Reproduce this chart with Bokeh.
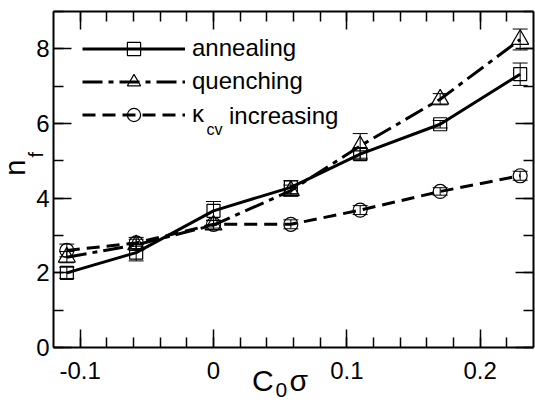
import math
from bokeh.plotting import figure
from bokeh.models import (ColumnDataSource, Whisker, TeeHead, LinearAxis, SingleIntervalTicker,
                          CustomJSTickFormatter, Legend, LegendItem, Label, Range1d, GridBox)
from bokeh.embed import file_html
from bokeh.resources import INLINE

# ---- data ----
c0sigma = [-0.11, -0.058, 0.0, 0.058, 0.11, 0.17, 0.23]
annealing = [2.0, 2.54, 3.66, 4.29, 5.18, 5.98, 7.32]
annealing_err = [0.15, 0.22, 0.25, 0.18, 0.15, 0.10, 0.30]
quenching = [2.42, 2.75, 3.28, 4.2, 5.4, 6.65, 8.25]
quenching_err = [0.15, 0.15, 0.12, 0.15, 0.33, 0.15, 0.28]
kappa = [2.6, 2.8, 3.3, 3.3, 3.68, 4.18, 4.6]
kappa_err = [0.17, 0.15, 0.10, 0.12, 0.12, 0.10, 0.12]

FONT = "Liberation Sans"
W, H = 535, 402

p = figure(width=W, height=H, output_backend="svg", toolbar_location=None,
           x_range=Range1d(-0.12, 0.24), y_range=Range1d(0, 9),
           min_border_left=53, min_border_right=2, min_border_top=11, min_border_bottom=55,
           x_axis_location=None, y_axis_location=None)
p.xgrid.visible = False
p.ygrid.visible = False
p.outline_line_color = None
p.background_fill_color = "white"
p.border_fill_color = "white"

fmt = CustomJSTickFormatter(code="return Number(tick.toFixed(3)).toString();")


def make_axis(dim, loc, labels):
    if dim == "x":
        ticker = SingleIntervalTicker(interval=0.1, num_minor_ticks=5)
    else:
        ticker = SingleIntervalTicker(interval=2, num_minor_ticks=2)
    ax = LinearAxis(ticker=ticker, formatter=fmt)
    ax.axis_line_width = 2
    ax.axis_line_color = "black"
    ax.major_tick_in = 18
    ax.major_tick_out = 0
    ax.minor_tick_in = 10
    ax.minor_tick_out = 0
    ax.major_tick_line_width = 1.5
    ax.minor_tick_line_width = 1.5
    ax.major_tick_line_color = "black"
    ax.minor_tick_line_color = "black"
    if labels:
        ax.major_label_text_font = FONT
        ax.major_label_text_font_size = "24px"
        ax.major_label_text_color = "black"
        ax.major_label_standoff = 14 if dim == "x" else 4
    else:
        ax.major_label_text_color = None
        ax.major_label_text_font_size = "1px"
        ax.major_label_standoff = 0
    p.add_layout(ax, loc)
    return ax


make_axis("x", "below", True)
make_axis("x", "above", False)
make_axis("y", "left", True)
make_axis("y", "right", False)


def series(y, err, marker, size, dash):
    src = ColumnDataSource(dict(x=c0sigma, y=y,
                                upper=[a + b for a, b in zip(y, err)],
                                lower=[a - b for a, b in zip(y, err)]))
    ln = p.line("x", "y", source=src, line_color="black", line_width=3, line_dash=dash)
    wh = Whisker(base="x", upper="upper", lower="lower", source=src, dimension="height",
                 line_color="black", line_width=1,
                 upper_head=TeeHead(size=15, line_color="black", line_width=1),
                 lower_head=TeeHead(size=15, line_color="black", line_width=1))
    p.add_layout(wh)
    sc = p.scatter("x", "y", source=src, marker=marker, size=size, fill_color=None,
                   line_color="black", line_width=1.2)
    return ln, sc


la, sa = series(annealing, annealing_err, "square", 13, "solid")
lq, sq = series(quenching, quenching_err, "triangle", 17, "20 6 5 6")
lk, sk = series(kappa, kappa_err, "circle", 14, "13 7")

legend = Legend(items=[LegendItem(label="annealing", renderers=[la, sa]),
                       LegendItem(label="quenching", renderers=[lq, sq]),
                       LegendItem(label="κ", renderers=[lk, sk])],
                location=(29, 216.5), glyph_width=103, glyph_height=33, label_height=33,
                spacing=0, padding=0, margin=0, label_standoff=7,
                border_line_color=None, background_fill_alpha=0,
                label_text_font=FONT, label_text_font_size="24px", label_text_color="black")
p.add_layout(legend)


def lab(fig, text, x, y, size, angle=0.0):
    fig.add_layout(Label(x=x, y=y, x_units="screen", y_units="screen", text=text,
                         text_font=FONT, text_font_size=f"{size}px", text_color="black",
                         angle=angle, text_align="left", text_baseline="middle"))


# frame-relative (y up), anchors at the text's vertical middle
lab(p, "cv", 153, 217.6, 16)
lab(p, "increasing", 175.5, 232.4, 24)

# transparent overlay canvas (frame = whole canvas) for the axis titles
p2 = figure(width=W, height=H, output_backend="svg", toolbar_location=None,
            x_range=Range1d(0, W), y_range=Range1d(0, H),
            min_border_left=0, min_border_right=0, min_border_top=0, min_border_bottom=0,
            x_axis_location=None, y_axis_location=None)
for fig in (p, p2):
    try:
        fig.frame_align = False
    except Exception:
        pass
p2.xgrid.visible = False
p2.ygrid.visible = False
p2.outline_line_color = None
p2.background_fill_alpha = 0
p2.border_fill_alpha = 0

lab(p2, "C", 251.5, H - 379.5, 30)
lab(p2, "0", 275, H - 389.7, 21)
lab(p2, "σ", 289, H - 379.5, 30)
lab(p2, "n", 14.8, H - 175.3, 29, math.pi / 2)
lab(p2, "f", 35.0, H - 157, 20, math.pi / 2)

layout = GridBox(children=[(p, 0, 0), (p2, 0, 0)], spacing=0)

open("out.html", "w").write(file_html(layout, INLINE))
